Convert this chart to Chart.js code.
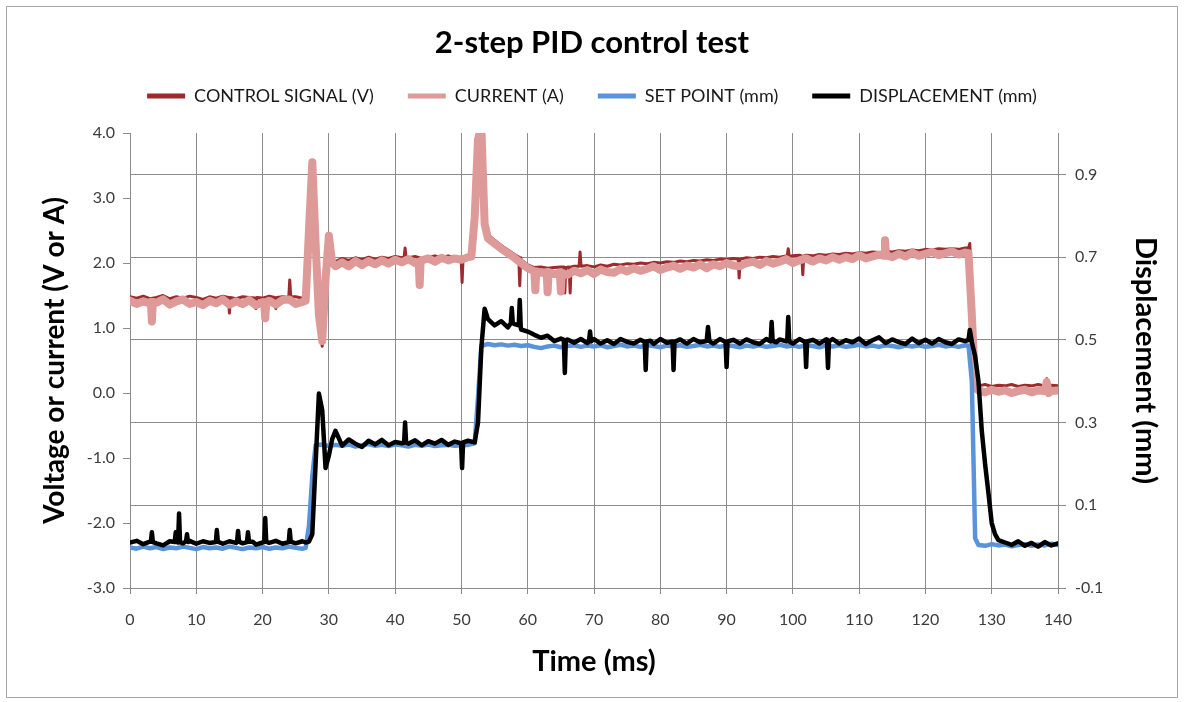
<!DOCTYPE html>
<html>
<head>
<meta charset="utf-8">
<title>2-step PID control test</title>
<script src="https://cdn.jsdelivr.net/npm/chart.js@4.4.1/dist/chart.umd.min.js"></script>
<style>
    html, body { margin: 0; padding: 0; background: #ffffff; }
    #frame { position: absolute; left: 6px; top: 6px; width: 1170px; height: 690px; border: 1px solid #a6a6a6; }
    canvas { display: block; }
</style>
</head>
<body>
<div id="frame"><canvas id="pid-chart" width="1170" height="690"></canvas></div>
<script>
// Each trace keeps its own sample times (ms): 1 ms on the flat parts,
// closer samples on the steps and on the single-sample glitches.

// CONTROL SIGNAL (V), left axis
const controlTimeMs = [
    0, 1, 2, 3, 4, 5, 6, 7, 8, 9,
    10, 11, 12, 13, 14, 14.85, 15, 15.15, 16, 17,
    18, 18.85, 19, 19.15, 20, 21, 21.85, 22, 22.15, 23,
    23.95, 24.1, 24.25, 25, 26, 26.5, 27, 27.5, 28, 28.5,
    29, 29.5, 30, 30.5, 31, 32, 33, 34, 35, 36,
    37, 38, 39, 40, 41, 41.35, 41.5, 41.65, 42, 43,
    44, 45, 46, 47, 48, 49, 49.95, 50.1, 50.25, 51,
    51.5, 52, 52.5, 53, 53.5, 54, 55, 56, 57, 58,
    58.65, 58.8, 58.95, 59, 60, 61, 62, 63, 64, 65,
    65.45, 65.6, 65.75, 66.25, 66.4, 66.55, 67, 67.75, 67.9, 68.05,
    69, 70, 71, 72, 73, 74, 75, 76, 77, 78,
    79, 80, 81, 82, 83, 84, 85, 86, 87, 88,
    89, 90, 91, 91.75, 91.9, 92.05, 93, 94, 95, 96,
    97, 98, 99, 99.15, 99.3, 99.45, 100, 101, 101.35, 101.5,
    101.65, 102, 103, 104, 105, 106, 107, 108, 109, 110,
    111, 112, 113, 114, 115, 116, 117, 118, 119, 120,
    121, 122, 123, 124, 125, 126, 126.5, 126.7, 127, 127.5,
    128, 129, 130, 131, 132, 133, 134, 135, 136, 137,
    138, 138.3, 138.6, 139, 140
];
const controlSignalV = [
    1.48, 1.46, 1.49, 1.45, 1.47, 1.50, 1.45, 1.48, 1.46, 1.49,
    1.47, 1.44, 1.48, 1.46, 1.49, 1.47, 1.23, 1.47, 1.45, 1.48,
    1.47, 1.46, 1.30, 1.47, 1.46, 1.49, 1.47, 1.30, 1.47, 1.48,
    1.47, 1.74, 1.48, 1.48, 1.46, 1.48, 2.55, 3.58, 2.25, 1.15,
    0.72, 1.70, 2.45, 2.06, 2.02, 2.07, 2.04, 2.08, 2.05, 2.09,
    2.06, 2.09, 2.07, 2.10, 2.08, 2.09, 2.23, 2.09, 2.08, 2.10,
    2.07, 2.09, 2.11, 2.08, 2.11, 2.08, 2.09, 1.70, 2.09, 2.10,
    2.13, 2.75, 3.95, 4.10, 2.55, 2.43, 2.35, 2.27, 2.20, 2.13,
    2.09, 1.65, 2.08, 2.05, 1.97, 1.93, 1.94, 1.92, 1.93, 1.94,
    1.94, 1.54, 1.93, 1.94, 1.54, 1.94, 1.95, 1.95, 2.17, 1.95,
    1.96, 1.94, 1.97, 1.95, 1.98, 1.97, 1.99, 1.98, 2.00, 1.99,
    2.01, 2.00, 2.02, 2.01, 2.03, 2.02, 2.04, 2.03, 2.05, 2.04,
    2.06, 2.05, 2.07, 2.06, 1.77, 2.06, 2.08, 2.07, 2.09, 2.08,
    2.10, 2.09, 2.11, 2.10, 2.22, 2.10, 2.11, 2.12, 2.11, 1.82,
    2.11, 2.12, 2.11, 2.13, 2.12, 2.14, 2.13, 2.15, 2.14, 2.16,
    2.15, 2.17, 2.16, 2.18, 2.17, 2.19, 2.18, 2.20, 2.19, 2.21,
    2.20, 2.22, 2.21, 2.22, 2.21, 2.23, 2.23, 2.30, 1.00, 0.12,
    0.11, 0.13, 0.10, 0.12, 0.11, 0.13, 0.10, 0.12, 0.11, 0.13,
    0.11, 0.22, 0.11, 0.12, 0.11
];

// CURRENT (A), left axis
const currentTimeMs = [
    0, 1, 2, 3, 3.15, 3.3, 3.45, 4, 5, 6,
    7, 8, 9, 10, 11, 12, 13, 14, 15, 16,
    17, 18, 19, 20, 20.25, 20.4, 20.55, 21, 22, 23,
    24, 25, 26, 26.5, 27, 27.5, 28, 28.5, 29, 29.5,
    30, 30.5, 31, 32, 33, 34, 35, 36, 37, 38,
    39, 40, 41, 42, 43, 43.55, 43.7, 43.85, 44, 45,
    46, 47, 48, 49, 50, 51, 51.5, 52, 52.5, 53,
    53.5, 54, 55, 56, 57, 58, 59, 60, 61, 61.15,
    61.3, 62, 62.85, 63, 63.15, 64, 64.85, 65, 65.15, 66,
    67, 68, 69, 70, 71, 72, 73, 74, 75, 76,
    77, 78, 79, 80, 81, 82, 83, 84, 85, 86,
    87, 88, 89, 90, 91, 92, 93, 94, 95, 96,
    97, 98, 99, 100, 101, 102, 103, 104, 105, 106,
    107, 108, 109, 110, 111, 112, 113, 113.75, 113.9, 114.05,
    115, 116, 117, 118, 119, 120, 121, 122, 123, 124,
    125, 126, 126.5, 127, 127.5, 128, 129, 130, 131, 132,
    133, 134, 135, 136, 137, 138, 138.3, 138.6, 139, 140
];
const currentA = [
    1.42, 1.37, 1.41, 1.38, 1.40, 1.10, 1.40, 1.39, 1.44, 1.36,
    1.41, 1.44, 1.37, 1.40, 1.35, 1.42, 1.38, 1.44, 1.36, 1.41,
    1.37, 1.43, 1.35, 1.40, 1.39, 1.15, 1.40, 1.42, 1.36, 1.43,
    1.44, 1.37, 1.40, 1.42, 2.50, 3.55, 2.30, 1.20, 0.80, 1.75,
    2.42, 2.00, 1.95, 2.01, 1.95, 2.03, 1.97, 2.03, 1.98, 2.04,
    1.99, 2.05, 2.01, 2.06, 2.00, 2.02, 1.66, 2.03, 2.04, 2.07,
    2.02, 2.08, 2.04, 2.07, 2.05, 2.09, 2.10, 2.70, 3.90, 4.10,
    2.60, 2.38, 2.30, 2.22, 2.15, 2.08, 2.00, 1.92, 1.87, 1.58,
    1.87, 1.85, 1.86, 1.55, 1.86, 1.83, 1.85, 1.56, 1.85, 1.82,
    1.88, 1.84, 1.89, 1.83, 1.90, 1.86, 1.85, 1.91, 1.87, 1.92,
    1.88, 1.91, 1.95, 1.89, 1.93, 1.96, 1.91, 1.96, 1.93, 1.98,
    1.92, 1.98, 1.95, 2.00, 1.96, 1.95, 2.00, 2.02, 1.97, 2.03,
    1.99, 2.02, 2.06, 2.00, 2.04, 2.07, 2.02, 2.07, 2.04, 2.09,
    2.05, 2.09, 2.06, 2.12, 2.07, 2.10, 2.13, 2.11, 2.35, 2.12,
    2.09, 2.14, 2.10, 2.16, 2.11, 2.14, 2.17, 2.12, 2.15, 2.18,
    2.13, 2.16, 2.15, 1.20, 0.08, 0.04, 0.01, 0.05, 0.02, 0.04,
    0.00, 0.03, 0.05, 0.01, 0.04, 0.03, 0.17, 0.00, 0.03, 0.04
];

// SET POINT (mm), right axis
const setPointTimeMs = [
    0, 1, 2, 3, 4, 5, 6, 7, 8, 9,
    10, 11, 12, 13, 14, 15, 16, 17, 18, 19,
    20, 21, 22, 23, 24, 25, 26, 26.5, 27, 27.5,
    28, 29, 30, 31, 32, 33, 34, 35, 36, 37,
    38, 39, 40, 41, 42, 43, 44, 45, 46, 47,
    48, 49, 50, 51, 52, 52.5, 53, 54, 55, 56,
    57, 58, 59, 60, 61, 62, 63, 64, 65, 66,
    67, 68, 69, 70, 71, 72, 73, 74, 75, 76,
    77, 78, 79, 80, 81, 82, 83, 84, 85, 86,
    87, 88, 89, 90, 91, 92, 93, 94, 95, 96,
    97, 98, 99, 100, 101, 102, 103, 104, 105, 106,
    107, 108, 109, 110, 111, 112, 113, 114, 115, 116,
    117, 118, 119, 120, 121, 122, 123, 124, 125, 126,
    126.5, 127, 127.5, 128, 129, 130, 131, 132, 133, 134,
    135, 136, 137, 138, 139, 140
];
const setPointMm = [
    -0.002, -0.005, 0.000, -0.004, -0.001, -0.006, -0.002, -0.004, 0.000, -0.003,
    -0.006, -0.001, -0.004, -0.002, -0.005, 0.000, -0.003, -0.006, -0.002, -0.004,
    -0.001, -0.005, -0.002, -0.004, 0.000, -0.003, -0.005, -0.003, 0.050, 0.170,
    0.245, 0.247, 0.243, 0.246, 0.244, 0.247, 0.242, 0.245, 0.248, 0.244,
    0.246, 0.243, 0.247, 0.245, 0.242, 0.246, 0.244, 0.247, 0.243, 0.245,
    0.246, 0.244, 0.245, 0.246, 0.250, 0.360, 0.485, 0.490, 0.487, 0.489,
    0.486, 0.488, 0.485, 0.487, 0.483, 0.480, 0.484, 0.486, 0.482, 0.485,
    0.487, 0.483, 0.486, 0.484, 0.487, 0.482, 0.485, 0.488, 0.484, 0.486,
    0.483, 0.487, 0.485, 0.482, 0.486, 0.484, 0.487, 0.483, 0.485, 0.488,
    0.484, 0.486, 0.483, 0.487, 0.485, 0.482, 0.486, 0.484, 0.487, 0.483,
    0.485, 0.488, 0.484, 0.486, 0.483, 0.487, 0.485, 0.482, 0.486, 0.484,
    0.487, 0.483, 0.485, 0.488, 0.484, 0.486, 0.483, 0.487, 0.485, 0.482,
    0.486, 0.484, 0.487, 0.483, 0.485, 0.488, 0.484, 0.486, 0.483, 0.487,
    0.486, 0.400, 0.020, 0.004, 0.002, 0.006, 0.003, 0.005, 0.001, 0.004,
    0.006, 0.002, 0.005, 0.003, 0.007, 0.004
];

// DISPLACEMENT (mm), right axis
const displacementTimeMs = [
    0, 1, 2, 3, 3.15, 3.3, 3.45, 4, 5, 6,
    6.75, 6.9, 7.05, 7.25, 7.4, 7.55, 8, 8.45, 8.6, 8.75,
    9, 10, 11, 12, 12.95, 13.1, 13.25, 14, 15, 16,
    16.15, 16.3, 16.45, 17, 17.65, 17.8, 17.95, 18.5, 19, 20,
    20.25, 20.4, 20.55, 21, 22, 23, 23.95, 24.1, 24.25, 25,
    26, 26.5, 27, 27.5, 28, 28.5, 29, 29.5, 30, 30.5,
    31, 32, 33, 34, 35, 36, 37, 38, 39, 40,
    41, 41.35, 41.5, 41.65, 42, 43, 44, 45, 46, 47,
    48, 49, 49.95, 50.1, 50.25, 51, 52, 52.5, 53, 53.5,
    54, 55, 56, 57, 57.45, 57.6, 57.75, 58, 58.65, 58.8,
    58.95, 59, 60, 61, 62, 63, 64, 65, 65.45, 65.6,
    65.75, 66, 67, 68, 69, 69.25, 69.4, 69.55, 70, 71,
    72, 73, 74, 75, 76, 77, 77.65, 77.8, 77.95, 78.5,
    79, 80, 81, 81.85, 82, 82.15, 83, 84, 85, 86,
    87, 87.2, 87.4, 88, 89, 89.85, 90, 90.15, 91, 92,
    93, 94, 95, 96, 96.65, 96.8, 96.95, 97.5, 98, 99,
    99.15, 99.3, 99.45, 100, 101, 101.85, 102, 102.15, 103, 104,
    105, 105.15, 105.3, 105.45, 106, 107, 108, 109, 110, 111,
    112, 113, 114, 115, 116, 117, 118, 119, 120, 121,
    122, 123, 124, 125, 126, 126.5, 126.7, 127, 127.5, 128,
    128.5, 129, 129.5, 130, 130.5, 131, 132, 133, 134, 135,
    136, 137, 138, 139, 140
];
const displacementMm = [
    0.010, 0.014, 0.006, 0.012, 0.012, 0.035, 0.011, 0.008, 0.003, 0.013,
    0.011, 0.035, 0.012, 0.010, 0.080, 0.011, 0.008, 0.013, 0.030, 0.011,
    0.014, 0.007, 0.013, 0.009, 0.011, 0.040, 0.012, 0.007, 0.013, 0.009,
    0.011, 0.038, 0.012, 0.008, 0.011, 0.035, 0.012, 0.012, 0.005, 0.010,
    0.011, 0.069, 0.012, 0.009, 0.014, 0.007, 0.011, 0.040, 0.012, 0.008,
    0.013, 0.010, 0.012, 0.030, 0.200, 0.370, 0.330, 0.190, 0.220, 0.260,
    0.280, 0.244, 0.259, 0.249, 0.241, 0.256, 0.247, 0.258, 0.245, 0.253,
    0.250, 0.251, 0.300, 0.252, 0.249, 0.257, 0.245, 0.255, 0.249, 0.258,
    0.246, 0.254, 0.250, 0.190, 0.252, 0.256, 0.252, 0.300, 0.480, 0.575,
    0.550, 0.535, 0.545, 0.530, 0.540, 0.577, 0.540, 0.538, 0.535, 0.596,
    0.530, 0.525, 0.520, 0.512, 0.505, 0.510, 0.497, 0.503, 0.500, 0.420,
    0.498, 0.501, 0.493, 0.502, 0.492, 0.497, 0.520, 0.496, 0.502, 0.491,
    0.499, 0.490, 0.502, 0.495, 0.491, 0.500, 0.495, 0.427, 0.496, 0.498,
    0.490, 0.502, 0.493, 0.496, 0.427, 0.495, 0.501, 0.491, 0.502, 0.494,
    0.497, 0.531, 0.497, 0.491, 0.502, 0.495, 0.434, 0.496, 0.500, 0.491,
    0.501, 0.494, 0.490, 0.502, 0.496, 0.543, 0.497, 0.494, 0.501, 0.496,
    0.497, 0.555, 0.496, 0.491, 0.502, 0.495, 0.434, 0.496, 0.500, 0.491,
    0.501, 0.495, 0.432, 0.496, 0.502, 0.491, 0.499, 0.494, 0.503, 0.490,
    0.499, 0.506, 0.492, 0.501, 0.494, 0.490, 0.503, 0.492, 0.500, 0.491,
    0.502, 0.494, 0.490, 0.501, 0.497, 0.500, 0.524, 0.495, 0.460, 0.400,
    0.280, 0.200, 0.130, 0.057, 0.030, 0.016, 0.010, 0.004, 0.013, 0.002,
    0.009, 0.000, 0.011, 0.003, 0.008
];

const timeTicks = [0, 10, 20, 30, 40, 50, 60, 70, 80, 90, 100, 110, 120, 130, 140];
const leftTicks = [-3, -2, -1, 0, 1, 2, 3, 4];
const rightTicks = [-0.1, 0.1, 0.3, 0.5, 0.7, 0.9];

[
    [controlTimeMs, controlSignalV],
    [currentTimeMs, currentA],
    [setPointTimeMs, setPointMm],
    [displacementTimeMs, displacementMm]
].forEach(([t, v], i) => {
    if (t.length !== v.length) throw new Error('series ' + i + ': ' + t.length + ' times, ' + v.length + ' values');
});

const FONT = 'Lato, "Open Sans", sans-serif';
const GRID = '#8c8c8c';
const TICK_TEXT = '#3c3c3c';

const toPoints = (times, values) => values.map((v, i) => ({ x: times[i], y: v }));

function lineSeries(label, times, values, color, width, axis, order) {
    return {
        label,
        data: toPoints(times, values),
        yAxisID: axis,
        borderColor: color,
        backgroundColor: color,
        borderWidth: width,
        pointRadius: 0,
        tension: 0,
        borderJoinStyle: 'round',
        borderCapStyle: 'round',
        clip: 0,
        order
    };
}

// Legend row sits well above the plot in the original; pad below it
const legendGap = {
    id: 'legendGap',
    afterInit(chart) {
        const fit = chart.legend.fit;
        chart.legend.fit = function () {
            fit.call(this);
            this.height += 18;
        };
    }
};

const ctx = document.getElementById('pid-chart').getContext('2d');
new Chart(ctx, {
    type: 'line',
    data: {
        datasets: [
            lineSeries('CONTROL SIGNAL (V)', controlTimeMs, controlSignalV, '#9c2b2e', 3, 'y', 3),
            lineSeries('CURRENT (A)', currentTimeMs, currentA, '#de9a98', 8, 'y', 2),
            lineSeries('SET POINT (mm)', setPointTimeMs, setPointMm, '#5a93da', 4.5, 'y2', 1),
            lineSeries('DISPLACEMENT (mm)', displacementTimeMs, displacementMm, '#000000', 4.5, 'y2', 0)
        ]
    },
    plugins: [legendGap],
    options: {
        responsive: false,
        animation: false,
        events: [],
        layout: { padding: 0 },
        plugins: {
            tooltip: { enabled: false },
            title: {
                display: true,
                text: '2-step PID control test',
                color: '#000000',
                font: { family: FONT, size: 31, weight: 'bold', lineHeight: 0.6 },
                padding: { top: 26.7, bottom: 0.7 }
            },
            legend: {
                display: true,
                position: 'top',
                labels: {
                    color: '#1a1a1a',
                    font: { family: FONT, size: 18 },
                    boxWidth: 38,
                    boxHeight: 5,
                    padding: 34,
                    sort: (a, b) => a.datasetIndex - b.datasetIndex,
                    generateLabels: chart => Chart.defaults.plugins.legend.labels.generateLabels(chart)
                        .map(item => Object.assign(item, {
                            fillStyle: chart.data.datasets[item.datasetIndex].borderColor,
                            lineWidth: 0
                        }))
                }
            }
        },
        scales: {
            x: {
                type: 'linear',
                min: 0,
                max: 140,
                afterBuildTicks: axis => { axis.ticks = timeTicks.map(v => ({ value: v })); },
                afterFit: axis => { axis.height = 109; },
                ticks: { color: TICK_TEXT, font: { family: FONT, size: 16 }, padding: 16, maxRotation: 0, autoSkip: false },
                grid: { color: GRID, tickColor: GRID, tickLength: 6 },
                border: { color: GRID },
                title: {
                    display: true,
                    text: 'Time (ms)',
                    color: '#000000',
                    font: { family: FONT, size: 29, weight: 'bold' },
                    padding: { top: 0, bottom: 17.6 }
                }
            },
            y: {
                position: 'left',
                min: -3,
                max: 4,
                afterBuildTicks: axis => { axis.ticks = leftTicks.map(v => ({ value: v })); },
                afterFit: axis => { axis.width = 123; },
                ticks: { color: TICK_TEXT, font: { family: FONT, size: 16 }, padding: 8, callback: v => v.toFixed(1) },
                grid: { drawOnChartArea: false, color: GRID, tickColor: GRID, tickLength: 7 },
                border: { color: GRID },
                title: {
                    display: true,
                    text: 'Voltage or current (V or A)',
                    color: '#000000',
                    font: { family: FONT, size: 28, weight: 'bold' },
                    padding: { top: 31, bottom: 0 }
                }
            },
            y2: {
                position: 'right',
                min: -0.1,
                max: 1.0,
                afterBuildTicks: axis => { axis.ticks = rightTicks.map(v => ({ value: v })); },
                afterFit: axis => { axis.width = 119; },
                ticks: { color: TICK_TEXT, font: { family: FONT, size: 16 }, padding: 9, callback: v => v.toFixed(1) },
                grid: { color: GRID, tickColor: GRID, tickLength: 8 },
                border: { color: GRID },
                title: {
                    display: true,
                    text: 'Displacement (mm)',
                    color: '#000000',
                    font: { family: FONT, size: 29, weight: 'bold' },
                    padding: { top: 14.6, bottom: 0 }
                }
            }
        }
    }
});
</script>
</body>
</html>
